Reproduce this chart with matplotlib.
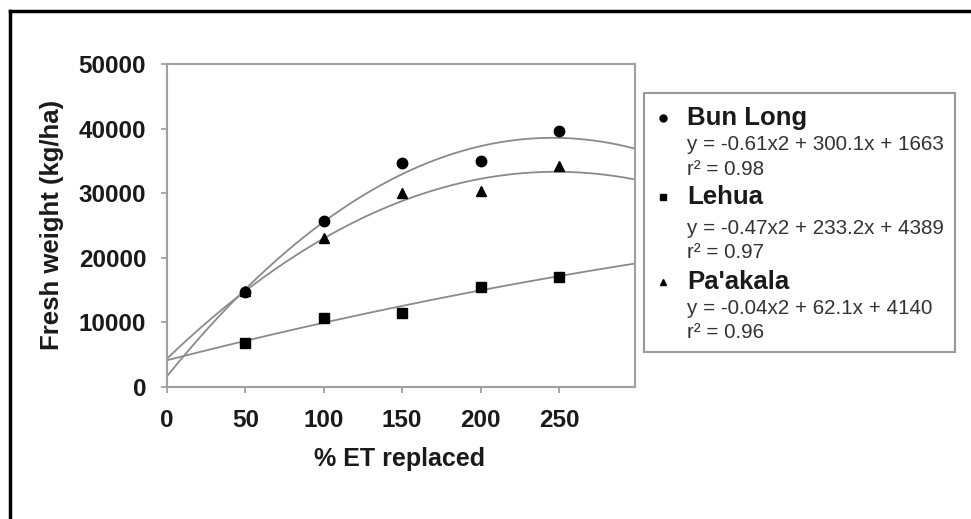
import matplotlib
matplotlib.use("Agg")
import matplotlib.pyplot as plt
import numpy as np
from matplotlib.lines import Line2D
from matplotlib.patches import Rectangle

plt.rcParams['font.family'] = ['Liberation Sans', 'DejaVu Sans']

# ---- data ----
x_et = [50, 100, 150, 200, 250]
bun_long = [14700, 25700, 34600, 35000, 39700]
lehua = [6800, 10700, 11400, 15500, 17100]
paakala = [14800, 23100, 30100, 30400, 34200]

# trendline coefficients (a, b, c) for y = a x^2 + b x + c
coef_bun_long = [-0.61, 300.1, 1663]
coef_paakala = [-0.47, 233.2, 4389]
coef_lehua = [-0.04, 62.1, 4140]

legend_names = ["Bun Long", "Lehua", "Pa'akala"]
legend_eqs = ["y = -0.61x2 + 300.1x + 1663",
              "y = -0.47x2 + 233.2x + 4389",
              "y = -0.04x2 + 62.1x + 4140"]
legend_r2 = ["r\u00b2 = 0.98", "r\u00b2 = 0.97", "r\u00b2 = 0.96"]
legend_markers = ["o", "s", "^"]

x_ticks = [0, 50, 100, 150, 200, 250]
y_ticks = [0, 10000, 20000, 30000, 40000, 50000]

W, H = 971, 519
fig = plt.figure(figsize=(W / 100, H / 100), dpi=100)
fig.patch.set_facecolor('white')

def fx(px):
    return px / W

def fy(py):
    return 1 - py / H

ax = fig.add_axes([fx(167), fy(387), fx(635) - fx(167), fy(64) - fy(387)])
xmax = 298.5
ax.set_xlim(0, xmax)
ax.set_ylim(0, 50000)

line_col = '#8a8a8a'
xs = np.linspace(0, xmax, 300)
for coef in (coef_bun_long, coef_paakala, coef_lehua):
    a, b, c = coef
    ax.plot(xs, a * xs ** 2 + b * xs + c, color=line_col, lw=1.3, zorder=2)

ax.plot(x_et, bun_long, 'o', color='black', ms=7.5, ls='none', zorder=3)
ax.plot(x_et, lehua, 's', color='black', ms=6.5, ls='none', zorder=3)
ax.plot(x_et, paakala, '^', color='black', ms=7, ls='none', zorder=3)

ax.set_xticks(x_ticks)
ax.set_yticks(y_ticks)
ax.set_xticklabels([str(t) for t in x_ticks])
ax.set_yticklabels([str(t) for t in y_ticks])
for lab in ax.get_xticklabels() + ax.get_yticklabels():
    lab.set_fontweight('bold')
    lab.set_fontsize(17.5)
    lab.set_color('#1a1a1a')
ax.tick_params(axis='both', direction='out', length=4, width=1.2, color='#999999')
ax.tick_params(axis='x', pad=12)
ax.tick_params(axis='y', pad=11)
for s in ax.spines.values():
    s.set_color('#a0a0a0')
    s.set_linewidth(1.5)

fig.text(fx(400), fy(459), "% ET replaced", ha='center', va='center',
         fontsize=18, fontweight='bold', color='#1a1a1a')
fig.text(fx(52), fy(225), "Fresh weight (kg/ha)", ha='center', va='center',
         rotation=90, fontsize=18.5, fontweight='bold', color='#1a1a1a')

# legend box
fig.add_artist(Rectangle((fx(644), fy(352)), fx(955) - fx(644), fy(93) - fy(352),
                         transform=fig.transFigure, facecolor='white',
                         edgecolor='#999999', lw=1.5))
name_y = [118, 197, 282]
eq_y = [144, 228, 308]
r2_y = [169, 253, 332]
for i in range(3):
    fig.add_artist(Line2D([fx(663)], [fy(name_y[i])], marker=legend_markers[i],
                          color='black', ms=5, ls='none', transform=fig.transFigure))
    fig.text(fx(687), fy(name_y[i]), legend_names[i], ha='left', va='center',
             fontsize=18.5, fontweight='bold', color='#1a1a1a')
    fig.text(fx(687), fy(eq_y[i]), legend_eqs[i], ha='left', va='center',
             fontsize=14.9, color='#333333')
    fig.text(fx(687), fy(r2_y[i]), legend_r2[i], ha='left', va='center',
             fontsize=14.9, color='#333333')

# outer frame (top and left visible)
fig.add_artist(Line2D([fx(10), fx(971)], [fy(11), fy(11)], color='black', lw=2.5,
                      transform=fig.transFigure))
fig.add_artist(Line2D([fx(10), fx(10)], [fy(11), fy(519)], color='black', lw=2.5,
                      transform=fig.transFigure))

fig.savefig("out.png", dpi=100, facecolor='white')
